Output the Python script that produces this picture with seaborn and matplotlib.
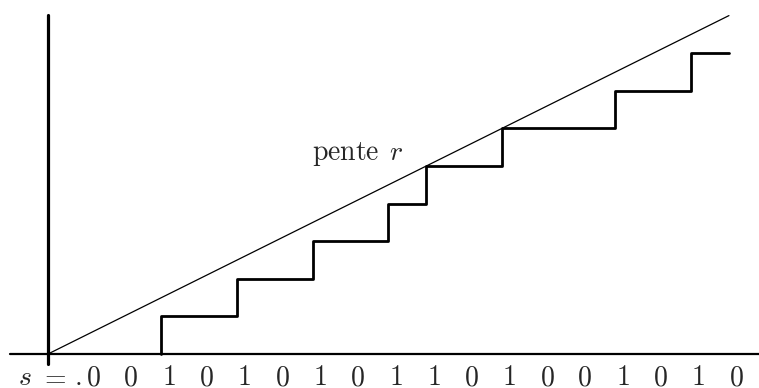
import numpy as np
import pandas as pd
import seaborn as sns
import matplotlib.pyplot as plt

# the word s, one digit per unit step
word = [0, 0, 1, 0, 1, 0, 1, 0, 1, 1, 0, 1, 0, 0, 1, 0, 1, 0]
slope_r = 0.5
line_label = "pente"

sns.set_style("white")
plt.rcParams["mathtext.fontset"] = "cm"

n = len(word)
heights = np.concatenate([[0], np.cumsum(word)])
first = int(np.argmax(word)) + 1  # staircase leaves the axis here
steps = pd.DataFrame({"x": np.concatenate([[first], np.arange(first, n + 1)]),
                      "y": np.concatenate([[0], heights[first:]])})
line = pd.DataFrame({"x": [0, n], "y": [0, slope_r * n]})

fig = plt.figure(figsize=(7.59, 3.88), dpi=100)
ax = fig.add_axes([0, 0, 1, 1])

# pixel layout: origin at (48, 354), unit ~37.8 px
ux, uy = 37.83, 37.6
ax.set_xlim(-48 / ux, (759 - 48) / ux)
ax.set_ylim(-(388 - 354) / uy, 354 / uy)
ax.axis("off")

# axes
ax.plot([-38 / ux, (759 - 48) / ux], [0, 0], color="black", lw=1.6)
ax.plot([0, 0], [-10 / uy, 339 / uy], color="black", lw=2.3)

sns.lineplot(data=line, x="x", y="y", ax=ax, color="black", lw=0.9)
sns.lineplot(data=steps, x="x", y="y", ax=ax, color="black", lw=2.0,
             drawstyle="steps-post", estimator=None, sort=False)

ax.text((312 - 48) / ux, (354 - 160) / uy,
        r"$\mathrm{" + line_label + r"}\;\,r$", fontsize=20,
        ha="left", va="baseline")

ybase = -(385 - 354) / uy
for px, s in [(25, r"$s$"), (53, r"$=$"), (78, r"$.$")]:
    ax.text((px - 48) / ux, ybase, s, fontsize=20, ha="center", va="baseline")
for i, d in enumerate(word, start=1):
    ax.text(i + 0.19, ybase, r"$\mathrm{%d}$" % d, fontsize=20,
            ha="center", va="baseline")

fig.savefig("out.png", dpi=100)
